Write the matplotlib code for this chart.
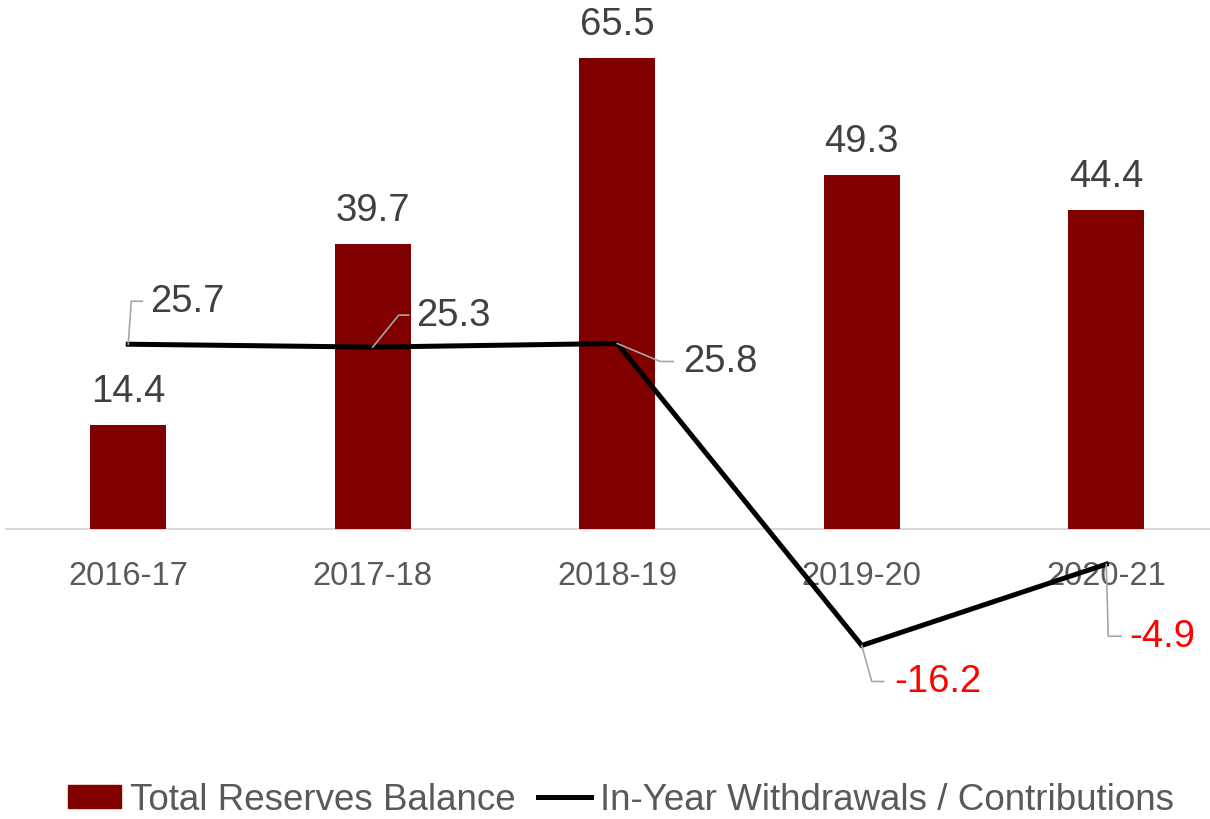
import matplotlib.pyplot as plt
from matplotlib.lines import Line2D

plt.rcParams['font.family'] = ['Liberation Sans', 'DejaVu Sans']

years = ['2016-17', '2017-18', '2018-19', '2019-20', '2020-21']
reserves = [14.4, 39.7, 65.5, 49.3, 44.4]
flows = [25.7, 25.3, 25.8, -16.2, -4.9]

# leader lines for the line labels: (elbow dx, dy, end dx, text dx), pixels
leaders = [(3, 43, 14, 22), (26, 32, 36, 43), (43, -18, 56, 66),
           (10, -36, 22, 32), (2, -72, 15, 23)]

W, H = 1210, 820
fig = plt.figure(figsize=(W / 100, H / 100), dpi=100)

# axes placed so one category step is ~244.5 px and 1 unit ~7.19 px
ax = fig.add_axes([6 / W, 98 / H, 1204 / W, 710 / H])
x = range(len(years))
ax.bar(x, reserves, width=0.31, color='#800000', zorder=2)
ax.plot(x, flows, color='black', lw=3.6, zorder=3, solid_joinstyle='miter')

ax.set_xlim(-0.5, -0.5 + 1204 / 244.5)
ax.set_ylim(-(720 - 528) / 7.19, (528 - 10) / 7.19)
for s in ['top', 'left', 'right']:
    ax.spines[s].set_visible(False)
ax.spines['bottom'].set_position(('data', 0))
ax.spines['bottom'].set_color('#D9D9D9')
ax.spines['bottom'].set_linewidth(1.5)
ax.spines['bottom'].set_zorder(1)
ax.set_yticks([])
ax.set_xticks(list(x))
ax.set_xticklabels(years, fontsize=23.5, color='#595959')
ax.tick_params(axis='x', length=0, pad=22)

for i, v in enumerate(reserves):
    ax.annotate(f'{v:.1f}', (i, v), xytext=(0, 34), textcoords='offset pixels',
                ha='center', va='center', fontsize=27.5, color='#404040')

fig.canvas.draw()
for i, v in enumerate(flows):
    px, py = ax.transData.transform((i, v))
    ex, ey, hx, tx = leaders[i]
    fig.add_artist(Line2D([px, px + ex, px + hx], [py, py + ey, py + ey],
                          transform=None, color='#A6A6A6', lw=1.2, zorder=4))
    fig.text(px + tx, py + ey, f'{v:.1f}', transform=None, ha='left', va='center',
             fontsize=27.5, color='#FF0000' if v < 0 else '#404040')

handles = [plt.Rectangle((0, 0), 1, 1, color='#800000'),
           Line2D([0], [0], color='black', lw=3.6)]
fig.legend(handles, ['Total Reserves Balance', 'In-Year Withdrawals / Contributions'],
           loc='center', bbox_to_anchor=(0.5 + 16 / W, 19 / H), ncol=2, frameon=False,
           fontsize=26.5, labelcolor='#595959', handlelength=1.45, handleheight=0.6,
           handletextpad=0.25, columnspacing=0.6)

fig.savefig('out.png', dpi=100)
